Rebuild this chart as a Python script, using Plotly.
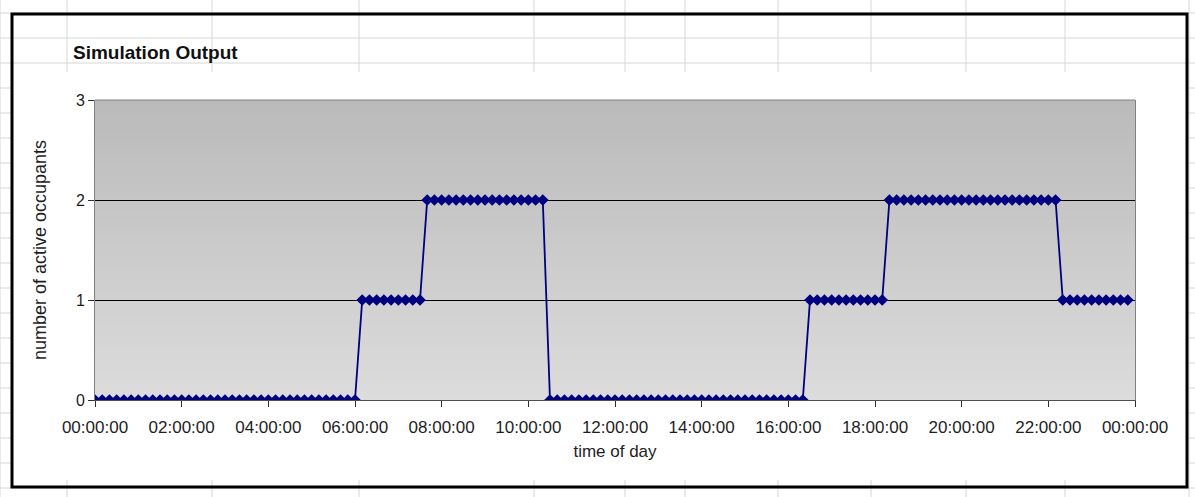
import plotly.graph_objects as go

# ---------------- data ----------------
times = [
    "00:00", "00:10", "00:20", "00:30", "00:40", "00:50",
    "01:00", "01:10", "01:20", "01:30", "01:40", "01:50",
    "02:00", "02:10", "02:20", "02:30", "02:40", "02:50",
    "03:00", "03:10", "03:20", "03:30", "03:40", "03:50",
    "04:00", "04:10", "04:20", "04:30", "04:40", "04:50",
    "05:00", "05:10", "05:20", "05:30", "05:40", "05:50",
    "06:00", "06:10", "06:20", "06:30", "06:40", "06:50",
    "07:00", "07:10", "07:20", "07:30", "07:40", "07:50",
    "08:00", "08:10", "08:20", "08:30", "08:40", "08:50",
    "09:00", "09:10", "09:20", "09:30", "09:40", "09:50",
    "10:00", "10:10", "10:20", "10:30", "10:40", "10:50",
    "11:00", "11:10", "11:20", "11:30", "11:40", "11:50",
    "12:00", "12:10", "12:20", "12:30", "12:40", "12:50",
    "13:00", "13:10", "13:20", "13:30", "13:40", "13:50",
    "14:00", "14:10", "14:20", "14:30", "14:40", "14:50",
    "15:00", "15:10", "15:20", "15:30", "15:40", "15:50",
    "16:00", "16:10", "16:20", "16:30", "16:40", "16:50",
    "17:00", "17:10", "17:20", "17:30", "17:40", "17:50",
    "18:00", "18:10", "18:20", "18:30", "18:40", "18:50",
    "19:00", "19:10", "19:20", "19:30", "19:40", "19:50",
    "20:00", "20:10", "20:20", "20:30", "20:40", "20:50",
    "21:00", "21:10", "21:20", "21:30", "21:40", "21:50",
    "22:00", "22:10", "22:20", "22:30", "22:40", "22:50",
    "23:00", "23:10", "23:20", "23:30", "23:40", "23:50",
]

active_occupants = [
    0, 0, 0, 0, 0, 0,   # 00h
    0, 0, 0, 0, 0, 0,   # 01h
    0, 0, 0, 0, 0, 0,   # 02h
    0, 0, 0, 0, 0, 0,   # 03h
    0, 0, 0, 0, 0, 0,   # 04h
    0, 0, 0, 0, 0, 0,   # 05h
    0, 1, 1, 1, 1, 1,   # 06h
    1, 1, 1, 1, 2, 2,   # 07h
    2, 2, 2, 2, 2, 2,   # 08h
    2, 2, 2, 2, 2, 2,   # 09h
    2, 2, 2, 0, 0, 0,   # 10h
    0, 0, 0, 0, 0, 0,   # 11h
    0, 0, 0, 0, 0, 0,   # 12h
    0, 0, 0, 0, 0, 0,   # 13h
    0, 0, 0, 0, 0, 0,   # 14h
    0, 0, 0, 0, 0, 0,   # 15h
    0, 0, 0, 1, 1, 1,   # 16h
    1, 1, 1, 1, 1, 1,   # 17h
    1, 1, 2, 2, 2, 2,   # 18h
    2, 2, 2, 2, 2, 2,   # 19h
    2, 2, 2, 2, 2, 2,   # 20h
    2, 2, 2, 2, 2, 2,   # 21h
    2, 2, 1, 1, 1, 1,   # 22h
    1, 1, 1, 1, 1, 1,   # 23h
]

x_tick_hours = ["00:00", "02:00", "04:00", "06:00", "08:00", "10:00", "12:00",
                "14:00", "16:00", "18:00", "20:00", "22:00", "24:00"]
x_tick_labels = ["00:00:00", "02:00:00", "04:00:00", "06:00:00", "08:00:00",
                 "10:00:00", "12:00:00", "14:00:00", "16:00:00", "18:00:00",
                 "20:00:00", "22:00:00", "00:00:00"]
y_ticks = [0, 1, 2, 3]

title_text = "Simulation Output"
x_title = "time of day"
y_title = "number of active occupants"

# ---------------- layout geometry ----------------
W, H = 1195, 497
L, R, T, B = 95, 1135, 100, 400   # plot area in pixels
PW, PH = R - L, B - T


def px(x):
    return (x - L) / PW


def py(y):
    return (B - y) / PH


def to_minutes(s):
    h, m = s.split(":")
    return int(h) * 60 + int(m)


x_vals = [to_minutes(t) for t in times]
x_tickvals = [to_minutes(t) for t in x_tick_hours]

FONT = "Liberation Sans, Arial, sans-serif"
NAVY = "#000080"
TXT = "#1e1e1e"

fig = go.Figure()
fig.add_trace(go.Scatter(
    x=x_vals, y=active_occupants, mode="lines+markers",
    line=dict(color=NAVY, width=1.8),
    marker=dict(symbol="diamond", size=9, color=NAVY, line=dict(width=0)),
    showlegend=False, hoverinfo="x+y",
))

shapes = []
# spreadsheet grid lines (background)
grid_col = "#d6d6d6"
cols = [0, 67, 212, 359, 534, 625, 685, 778, 871, 966, 1065, 1189]
rows = [13 + 25 * k for k in range(20)]
for cx in cols:
    shapes.append(dict(type="line", xref="paper", yref="paper", layer="below",
                       x0=px(cx), x1=px(cx), y0=py(0), y1=py(H),
                       line=dict(color=grid_col, width=1)))
for ry in rows:
    shapes.append(dict(type="line", xref="paper", yref="paper", layer="below",
                       x0=px(0), x1=px(W), y0=py(ry), y1=py(ry),
                       line=dict(color=grid_col, width=1)))
# white chart area
shapes.append(dict(type="rect", xref="paper", yref="paper", layer="below",
                   x0=px(12), x1=px(1187), y0=py(480), y1=py(72),
                   fillcolor="white", line=dict(width=0)))
# plot background gradient (dark at top -> light at bottom), overlapping bands
n_bands = 60
c_top, c_bot = 186, 220
band = 1 / n_bands
for i in range(n_bands):
    f = (i + 0.5) / n_bands
    c = int(round(c_top + (c_bot - c_top) * f))
    y_hi = 1 - i * band
    y_lo = max(0, y_hi - band * 1.8)
    shapes.append(dict(type="rect", xref="paper", yref="paper", layer="below",
                       x0=0, x1=1, y0=y_lo, y1=y_hi,
                       fillcolor=f"rgb({c},{c},{c})", line=dict(width=0)))
# outer black chart border
shapes.append(dict(type="rect", xref="paper", yref="paper", layer="below",
                   x0=px(12), x1=px(1187), y0=py(487), y1=py(14),
                   fillcolor="rgba(0,0,0,0)", line=dict(color="black", width=3)))
# top border of plot area
shapes.append(dict(type="line", xref="paper", yref="paper", layer="above",
                   x0=0, x1=1, y0=1, y1=1, line=dict(color="#808080", width=1)))

fig.update_layout(
    width=W, height=H,
    margin=dict(l=L, r=W - R, t=T, b=H - B, pad=0),
    paper_bgcolor="white",
    plot_bgcolor="rgba(0,0,0,0)",
    font=dict(family=FONT, size=17, color=TXT),
    shapes=shapes,
    annotations=[dict(text=f"<b>{title_text}</b>", xref="paper", yref="paper",
                      x=px(71), y=py(52), xanchor="left", yanchor="middle",
                      showarrow=False, font=dict(family=FONT, size=19, color="#111111"))],
    xaxis=dict(
        range=[0, 1440], tickmode="array", tickvals=x_tickvals, ticktext=x_tick_labels,
        showgrid=False, zeroline=False,
        showline=True, linecolor="#505050", linewidth=1,
        ticks="outside", ticklen=6, tickcolor="#303030",
        ticklabelstandoff=6,
        tickfont=dict(size=17, color=TXT),
        title=dict(text=x_title, standoff=8, font=dict(size=17, color=TXT)),
        automargin=False,
    ),
    yaxis=dict(
        range=[0, 3], tickmode="array", tickvals=y_ticks,
        showgrid=True, gridcolor="black", gridwidth=1, zeroline=False,
        showline=True, linecolor="#808080", linewidth=1, mirror=True,
        ticks="outside", ticklen=6, tickcolor="#303030",
        tickfont=dict(size=16, color=TXT),
        title=dict(text=y_title, standoff=24, font=dict(size=18, color=TXT)),
        automargin=False,
    ),
)

fig.write_html("out.html")
